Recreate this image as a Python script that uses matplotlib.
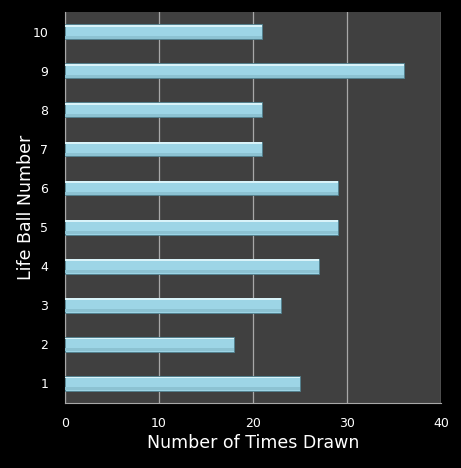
import numpy as np
import matplotlib
matplotlib.use("Agg")
import matplotlib.pyplot as plt

balls = ['1', '2', '3', '4', '5', '6', '7', '8', '9', '10']
times_drawn = [25, 18, 23, 27, 29, 29, 21, 21, 36, 21]
x_ticks = [0, 10, 20, 30, 40]

fig = plt.figure(figsize=(4.61, 4.68), dpi=100, facecolor='black')
ax = fig.add_axes([0.141, 0.139, 0.816, 0.835])
ax.set_facecolor('#404040')

pos = np.arange(1, len(balls) + 1)
h = 0.38
# base bar, then strips for the glossy look
ax.barh(pos, times_drawn, height=h, color='#9dd5e6', edgecolor='#4f7f8c',
	linewidth=0.6, zorder=3)
ax.barh(pos + h * 0.40, times_drawn, height=h * 0.12, color='#d9f3f9',
	linewidth=0, zorder=4)
ax.barh(pos - h * 0.36, times_drawn, height=h * 0.2, color='#8cc2d2',
	linewidth=0, zorder=4)

ax.set_xlim(0, 40)
ax.set_ylim(0.5, 10.5)
ax.set_xticks(x_ticks)
ax.set_yticks(pos)
ax.set_yticklabels(balls)
ax.grid(axis='x', color='#a8a8a8', linewidth=0.9, zorder=1)
ax.set_axisbelow(True)

for s in ['top', 'right']:
	ax.spines[s].set_visible(False)
for s in ['left', 'bottom']:
	ax.spines[s].set_color('#a8a8a8')
ax.tick_params(colors='white', labelsize=9, length=0, pad=10)
ax.tick_params(axis='y', pad=12)

ax.set_xlabel('Number of Times Drawn', color='white', fontsize=12.5)
ax.set_ylabel('Life Ball Number', color='white', fontsize=12.5)
ax.xaxis.set_label_coords(0.5, -0.079)
ax.yaxis.set_label_coords(-0.08, 0.5)

fig.savefig('out.png', dpi=100, facecolor='black')
